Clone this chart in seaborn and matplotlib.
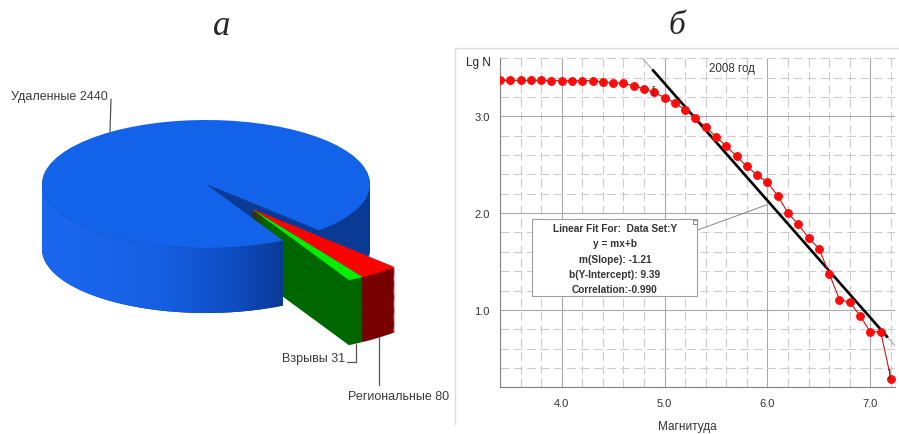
import numpy as np
import matplotlib
matplotlib.use("Agg")
import matplotlib.pyplot as plt
from matplotlib.patches import Polygon, Rectangle
from matplotlib.lines import Line2D
from matplotlib.colors import LinearSegmentedColormap
from matplotlib.ticker import MultipleLocator, FormatStrFormatter
import seaborn as sns

# ---------------- data ----------------
pie_categories = ["Удаленные", "Региональные", "Взрывы"]
pie_values = [2440, 80, 31]

magnitude = [3.4, 3.5, 3.6, 3.7, 3.8, 3.9, 4.0, 4.1, 4.2, 4.3,
             4.4, 4.5, 4.6, 4.7, 4.8, 4.9, 5.0, 5.1, 5.2, 5.3,
             5.4, 5.5, 5.6, 5.7, 5.8, 5.9, 6.0, 6.1, 6.2, 6.3,
             6.4, 6.5, 6.6, 6.7, 6.8, 6.9, 7.0, 7.1, 7.2]
lg_n = [3.372, 3.372, 3.372, 3.372, 3.372, 3.369, 3.369, 3.369, 3.369, 3.369,
        3.355, 3.348, 3.341, 3.317, 3.283, 3.248, 3.193, 3.141, 3.066, 2.983,
        2.886, 2.790, 2.693, 2.586, 2.483, 2.393, 2.317, 2.179, 2.000, 1.883,
        1.745, 1.634, 1.376, 1.107, 1.079, 0.941, 0.772, 0.776, 0.290]
fit_slope = -1.21
fit_intercept = 9.39
fit_correlation = -0.990
fit_range = [4.88, 7.17]
year_label = "2008 год"
x_label = "Магнитуда"
y_label = "Lg N"

# ---------------- style ----------------
sns.set_style("white")
plt.rcParams["font.family"] = ["Liberation Sans", "DejaVu Sans"]

W, H = 899, 435
fig = plt.figure(figsize=(W / 100, H / 100), dpi=100)
fig.patch.set_facecolor("white")

# ================= panel a: 3D pie =================
ax1 = fig.add_axes([0, 0, 450 / W, 1])
A_PX, B_PX = 164.0, 64.0      # pixels per data unit (x, y)
CX, CY = 206.0, 185.0         # pie centre in pixels (from left / top)
DEPTH = 65.0 / B_PX
N_LAYERS = 60
explode = [0, 0.47, 0.47]
side_colors = ["#0a3a94", "#780000", "#006600"]
top_colors = ["#1262ea", "#ff0000", "#00ee00"]
small_r = 1.27
side_z = [1, 2, 3]
top_z = [5, 2.5, 3.5]


def px2d(px, py):
    return (px - CX) / A_PX, (CY - py) / B_PX


def group_shift(wedges, cy):
    """Pull the exploded small slices out together, as one block."""
    lo = min(wedges[1].theta1, wedges[2].theta1)
    hi = max(wedges[1].theta2, wedges[2].theta2)
    gm = np.radians(0.5 * (lo + hi))
    for i in (1, 2):
        wedges[i].set_center((explode[i] * np.cos(gm), cy + explode[i] * np.sin(gm)))
        wedges[i].set_radius(small_r)


for k in range(N_LAYERS, 0, -1):
    dz = -DEPTH * k / N_LAYERS
    wedges, _ = ax1.pie(pie_values, explode=explode, colors=side_colors,
                        startangle=-62, counterclock=False, center=(0, dz),
                        wedgeprops=dict(linewidth=0))
    group_shift(wedges, dz)
    for i, w in enumerate(wedges):
        w.set_zorder(side_z[i])

top_wedges, _ = ax1.pie(pie_values, explode=explode, colors=top_colors,
                        startangle=-62, counterclock=False, center=(0, 0),
                        wedgeprops=dict(linewidth=0))
group_shift(top_wedges, 0)
for i, w in enumerate(top_wedges):
    w.set_zorder(top_z[i])

# shaded front wall of the big slice
blue = top_wedges[0]
theta_front = ((blue.theta2 + 180) % 360) - 180
t = np.radians(np.linspace(-180, theta_front, 240))
top_arc = np.column_stack([np.cos(t), np.sin(t)])
bot_arc = np.column_stack([np.cos(t[::-1]), np.sin(t[::-1]) - DEPTH])
wall = Polygon(np.vstack([top_arc, bot_arc]), closed=True,
               transform=ax1.transData, facecolor="none", edgecolor="none")
grad = np.linspace(0, 1, 256).reshape(1, -1)
wall_cmap = LinearSegmentedColormap.from_list(
    "wall", [(0, "#1b68f0"), (0.5, "#165fe2"), (0.8, "#0e4cc0"), (1, "#0a3a96")])
im = ax1.imshow(grad, extent=(-1, np.cos(np.radians(theta_front)), -1 - DEPTH, 0),
                aspect="auto", cmap=wall_cmap, zorder=4, interpolation="bilinear")
im.set_clip_path(wall)

# labels with leader lines
lab_kw = dict(fontsize=9, color="#3a3a3a", zorder=10)
lc = dict(color="#555555", lw=0.9, zorder=9)

# big slice
m0 = np.radians(0.5 * (blue.theta1 + blue.theta2))
x0, y0 = np.cos(m0), np.sin(m0)
lx, ly = px2d(11, 97)
ax1.text(lx, ly, f"{pie_categories[0]} {pie_values[0]}", ha="left", va="center", **lab_kw)
sx, sy = px2d(111, 100)
ax1.plot([sx, x0], [sy, y0], **lc)

# regional slice
wr = top_wedges[1]
mr = np.radians(0.5 * (wr.theta1 + wr.theta2))
rx = wr.center[0] + small_r * np.cos(mr)
ry = wr.center[1] + small_r * np.sin(mr) - DEPTH
_, ly_r = px2d(0, 386)
ax1.plot([rx, rx], [ry, ly_r], **lc)
tx, ty = px2d(348, 397.5)
ax1.text(tx, ty, f"{pie_categories[1]} {pie_values[1]}", ha="left", va="center", **lab_kw)

# explosions slice
wg = top_wedges[2]
mg = np.radians(0.5 * (wg.theta1 + wg.theta2))
gx = wg.center[0] + small_r * np.cos(mg)
gy = wg.center[1] + small_r * np.sin(mg) - DEPTH
hx, hy = px2d(347, 363)
ax1.plot([gx, gx, hx], [gy, hy, hy], **lc)
tx, ty = px2d(345, 359)
ax1.text(tx, ty, f"{pie_categories[2]} {pie_values[2]}", ha="right", va="center", **lab_kw)

ax1.set_aspect("auto")
ax1.set_xlim(px2d(0, 0)[0], px2d(450, 0)[0])
ax1.set_ylim(px2d(0, H)[1], px2d(0, 0)[1])
ax1.axis("off")

# ================= panel b: magnitude-frequency =================
ax2 = fig.add_axes([500 / W, 1 - 388.3 / H, 395 / W, 329 / H])
ax2.set_xlim(3.4, 7.24)
ax2.set_ylim(0.2, 3.6)
ax2.xaxis.set_major_locator(MultipleLocator(1.0))
ax2.xaxis.set_minor_locator(MultipleLocator(0.2))
ax2.yaxis.set_major_locator(MultipleLocator(1.0))
ax2.yaxis.set_minor_locator(MultipleLocator(0.2))
ax2.xaxis.set_major_formatter(FormatStrFormatter("%.1f"))
ax2.yaxis.set_major_formatter(FormatStrFormatter("%.1f"))
ax2.set_axisbelow(True)
ax2.grid(which="major", color="#a9a9a9", lw=0.8, ls="-")
ax2.grid(which="minor", color="#cccccc", lw=0.8, ls=(0, (8, 4)))
for s in ["top", "right"]:
    ax2.spines[s].set_visible(False)
for s in ["left", "bottom"]:
    ax2.spines[s].set_color("#808080")
    ax2.spines[s].set_linewidth(0.8)
ax2.tick_params(which="major", direction="out", length=4.5, width=0.8,
                color="#808080", labelsize=8, labelcolor="#333333", pad=3)
ax2.tick_params(which="minor", direction="out", length=2.5, width=0.8, color="#808080")

# fit lines
xl = np.array(ax2.get_xlim())
ax2.plot(xl, fit_slope * xl + fit_intercept, color="#a0a0a0", lw=0.7, zorder=2)
xf = np.array(fit_range)
ax2.plot(xf, fit_slope * xf + fit_intercept, color="black", lw=1.9, zorder=3,
         solid_capstyle="butt")

# data series
sns.lineplot(x=magnitude, y=lg_n, ax=ax2, color="#cc1010", lw=0.8, marker="o",
             markersize=5.6, markerfacecolor="#ff0a0a", markeredgecolor="#ff0a0a",
             zorder=4, sort=False)

# range brackets
ax2.text(4.89, 3.27, "[", fontsize=8, color="#333333", ha="center", va="center", zorder=5)
ax2.text(7.19, 0.35, "]", fontsize=8, color="#333333", ha="center", va="center", zorder=5)

# year label
ax2.text(5.657, 3.496, year_label, fontsize=8.3, color="#333333", ha="center", va="center")

# fit info box
ax2.add_patch(Rectangle((3.714, 1.139), 1.605, 0.799, facecolor="white",
                        edgecolor="#a0a0a0", lw=0.8, zorder=6))
box_lines = ["Linear Fit For:  Data Set:Y", "y = mx+b",
             f"m(Slope): {fit_slope:.2f}", f"b(Y-Intercept): {fit_intercept:.2f}",
             f"Correlation:{fit_correlation:.3f}"]
box_y = [1.849, 1.688, 1.525, 1.367, 1.212]
for s, yy in zip(box_lines, box_y):
    ax2.text(4.517, yy, s, fontsize=7.3, fontweight="bold", color="#333333",
             ha="center", va="center", zorder=7)
ax2.plot([5.329, 5.994], [1.828, 2.086], color="#888888", lw=0.7, zorder=6)
ax2.plot([5.297], [1.911], marker="s", markersize=3, mfc="white", mec="#888888",
         mew=0.7, zorder=7)

ax2.set_xlabel(x_label, fontsize=8.5, color="#333333", labelpad=9, x=0.473)
ax2.set_ylabel("")
ax2.text(-0.086, 0.99, y_label, transform=ax2.transAxes, fontsize=8.5,
         color="#222222", ha="left", va="center")

# light frame of the right panel
fig.add_artist(Line2D([455 / W, 1], [1 - 49 / H, 1 - 49 / H], transform=fig.transFigure,
                      color="#dcdcdc", lw=1))
fig.add_artist(Line2D([455 / W, 455 / W], [1 - 49 / H, 1 - 425 / H], transform=fig.transFigure,
                      color="#dcdcdc", lw=1))

# panel letters
fig.text(222 / W, 1 - 35 / H, "а", fontsize=25, style="italic",
         family=["Liberation Serif", "DejaVu Serif"], ha="center", va="baseline")
fig.text(677 / W, 1 - 34.5 / H, "б", fontsize=24, style="italic",
         family=["Liberation Serif", "DejaVu Serif"], ha="center", va="baseline")

fig.savefig("out.png", dpi=100, facecolor="white")
